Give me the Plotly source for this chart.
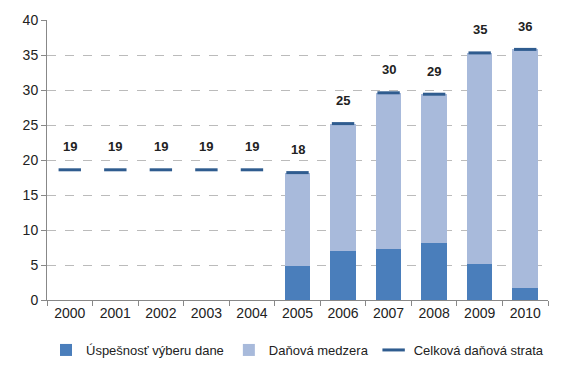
import plotly.graph_objects as go

years = [2000, 2001, 2002, 2003, 2004, 2005, 2006, 2007, 2008, 2009, 2010]
# Úspešnosť výberu dane (bottom segment), only from 2005
uspesnost = [None, None, None, None, None, 4.9, 7.0, 7.3, 8.2, 5.1, 1.7]
# Celková daňová strata (total)
strata = [18.6, 18.6, 18.6, 18.6, 18.6, 18.2, 25.2, 29.6, 29.4, 35.3, 35.8]
# Daňová medzera = total minus success part
medzera = [None if u is None else round(s - u, 2) for s, u in zip(strata, uspesnost)]

dark_blue = "#4A7EBB"
light_blue = "#A8BADB"
line_blue = "#2F5C8F"
font_family = "Liberation Sans, Arial, sans-serif"

fig = go.Figure()
fig.add_trace(go.Bar(x=years, y=uspesnost, name="Úspešnosť výberu dane", width=0.56,
                     marker=dict(color=dark_blue, line=dict(width=0))))
fig.add_trace(go.Bar(x=years, y=medzera, name="Daňová medzera", width=0.56,
                     marker=dict(color=light_blue, line=dict(width=0))))
fig.add_trace(go.Scatter(x=years, y=strata, name="Celková daňová strata", mode="markers",
                         marker=dict(symbol="line-ew", size=16,
                                     line=dict(color=line_blue, width=3))))

for yr, v in zip(years, strata):
    fig.add_annotation(x=yr, y=v, text=f"<b>{v:.0f}</b>", showarrow=False,
                       yshift=23, font=dict(size=13, color="#222222", family=font_family))

boundaries = [y - 0.5 for y in years] + [years[-1] + 0.5]

fig.update_layout(
    width=562, height=380,
    margin=dict(l=47, r=14, t=20, b=80, autoexpand=False),
    barmode="stack",
    plot_bgcolor="white", paper_bgcolor="white",
    font=dict(family=font_family, size=14, color="#222222"),
    showlegend=True,
    legend=dict(orientation="h", x=0.5, xanchor="center", y=-0.125, yanchor="top",
                font=dict(size=13, color="#222222"), itemwidth=30,
                traceorder="normal"),
    xaxis=dict(range=[years[0] - 0.5, years[-1] + 0.5], tickvals=years,
               ticktext=[str(y) for y in years], tickangle=0,
               showline=True, linecolor="#888888", linewidth=1,
               ticks="", showgrid=False, zeroline=False, tickfont=dict(size=14),
               minor=dict(tickvals=boundaries, ticks="outside", ticklen=5,
                          tickcolor="#888888", showgrid=False)),
    yaxis=dict(range=[0, 40], dtick=5, showline=True, linecolor="#888888", linewidth=1,
               ticks="outside", ticklen=5, tickcolor="#888888",
               showgrid=True, gridcolor="#BBBBBB", griddash="dash", gridwidth=1,
               zeroline=False, tickfont=dict(size=14)),
)

fig.write_html("out.html")
